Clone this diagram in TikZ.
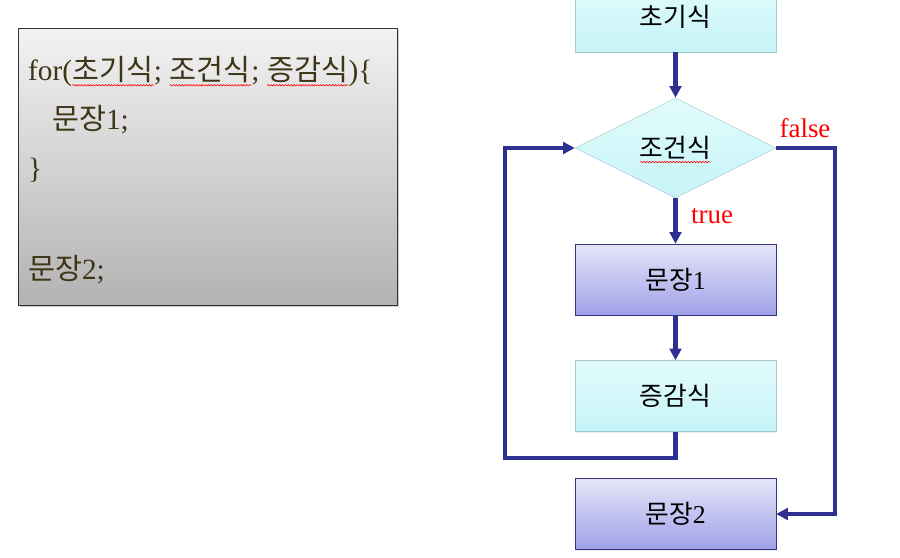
\documentclass[tikz,border=0pt]{standalone}
\usepackage{fontspec}
\setmainfont{Liberation Serif}
\newfontfamily\kr{Noto Sans CJK KR}
\usetikzlibrary{shapes.geometric,arrows.meta,shadows,decorations.pathmorphing}

\definecolor{flowblue}{RGB}{46,49,146}
\definecolor{cyantop}{RGB}{226,251,252}
\definecolor{cyanbot}{RGB}{198,244,248}
\definecolor{cyanline}{RGB}{160,204,206}
\definecolor{lavtop}{RGB}{230,230,250}
\definecolor{lavbot}{RGB}{160,160,232}
\definecolor{lavline}{RGB}{52,52,130}
\definecolor{codetext}{RGB}{62,52,22}

\tikzset{
	cyanbox/.style={rectangle, draw=cyanline, top color=cyantop, bottom color=cyanbot,
		minimum width=6.03cm, minimum height=2.13cm, font=\fontsize{22}{26}\selectfont,
		drop shadow={opacity=0.15, shadow xshift=1pt, shadow yshift=-1pt}},
	lavbox/.style={rectangle, draw=lavline, top color=lavtop, bottom color=lavbot,
		minimum width=6.03cm, minimum height=2.13cm, font=\fontsize{22}{26}\selectfont,
		drop shadow={opacity=0.15, shadow xshift=1pt, shadow yshift=-1pt}},
	decision/.style={diamond, aspect=2, draw=cyanline, top color=cyantop, bottom color=cyanbot,
		minimum width=6.03cm, minimum height=3cm, inner sep=0pt, font=\fontsize{22}{26}\selectfont},
	flow/.style={draw=flowblue, line width=3.5pt, -{Triangle[length=10pt,width=10pt]}},
	branch/.style={text=red, font=\fontsize{23}{26}\selectfont},
	codeline/.style={anchor=west, text=codetext, font=\fontsize{25}{30}\selectfont},
	spell/.style={red, line width=0.5pt, decorate, decoration={snake, amplitude=0.6pt, segment length=2.5pt}}
}
% wavy red mark under a word
\newcommand{\spellmark}[1]{\tikz[baseline=(w.base)]{\node[inner sep=0pt] (w) {#1};
	\draw[spell] ([yshift=-1.5pt]w.south west) -- ([yshift=-1.5pt]w.south east);}}

\begin{document}
\begin{tikzpicture}[x=0.03cm, y=-0.03cm]
	\useasboundingbox (0,0) rectangle (900,557);
	%code box
	\node[draw=black!80, top color=black!5, bottom color=black!30, minimum width=11.37cm,
		minimum height=8.31cm, anchor=north west,
		drop shadow={opacity=0.4, shadow xshift=1.5pt, shadow yshift=-1.5pt}] (code) at (18,28) {};
	\node[codeline] (line1) at (24,72) {for(\spellmark{\kr 초기식}; \spellmark{\kr 조건식}; \spellmark{\kr 증감식})\{};
	\node[codeline] (line2) at (48,120) {{\kr 문장}1;};
	\node[codeline] (line3) at (24,170) {\}};
	\node[codeline] (line4) at (24,270) {{\kr 문장}2;};
	%flowchart
	\node[cyanbox] (init) at (675.5,16.5) {\kr 초기식};
	\node[decision] (cond) at (675.5,148) {\kr 조건식};
	\draw[spell] ([xshift=-30pt,yshift=-12pt]cond.center) -- ([xshift=30pt,yshift=-12pt]cond.center);
	\node[lavbox] (body) at (675.5,279.5) {{\kr 문장}1};
	\node[cyanbox] (step) at (675.5,396) {\kr 증감식};
	\node[lavbox] (after) at (675.5,514) {{\kr 문장}2};
	%labels
	\node[branch] (falselbl) at (805,128) {false};
	\node[branch] (truelbl) at (712,216) {true};
	%arrows
	\coordinate (loopcorner) at (505,458);
	\coordinate (falsecorner) at (835,148);
	\draw[flow] (init) -- (cond);
	\draw[flow] (cond) -- (body);
	\draw[flow] (body) -- (step);
	\draw[flow] (step.south) |- (loopcorner) |- (cond.west);
	\draw[flow] (cond.east) -- (falsecorner) |- (after.east);
\end{tikzpicture}
\end{document}
